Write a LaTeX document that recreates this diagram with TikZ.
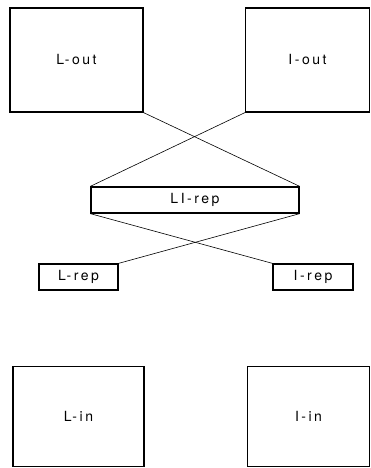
\documentclass[tikz,border=0pt]{standalone}
\usepackage{fontspec}
\setmainfont{TeX Gyre Heros}
\newfontfamily\plotfont[LetterSpace=18]{TeX Gyre Heros}
\begin{document}
\begin{tikzpicture}[x=1pt,y=-1pt,
  box/.style={draw,line width=1.3pt,inner sep=0pt,font=\plotfont\fontsize{14}{16}\selectfont},
  link/.style={line width=0.6pt}]
\useasboundingbox (0,0) rectangle (371,468);
\node[box,minimum width=133pt,minimum height=104pt] (lout) at (76.5,60) {L-out};
\node[box,minimum width=124pt,minimum height=104pt] (iout) at (307.5,60) {I-out};
\node[box,minimum width=208pt,minimum height=26pt] (lirep) at (195,200) {LI-rep};
\node[box,minimum width=79pt,minimum height=26pt] (lrep) at (78.5,277) {L-rep};
\node[box,minimum width=80pt,minimum height=26pt] (irep) at (313,277) {I-rep};
\node[box,minimum width=131pt,minimum height=100pt] (lin) at (78.5,416.5) {L-in};
\node[box,minimum width=122pt,minimum height=100pt] (iin) at (308.5,416.5) {I-in};
\draw[link] (lout.south east) -- (lirep.north east);
\draw[link] (iout.south west) -- (lirep.north west);
\draw[link] (lirep.south west) -- (irep.north west);
\draw[link] (lirep.south east) -- (lrep.north east);
\end{tikzpicture}
\end{document}
